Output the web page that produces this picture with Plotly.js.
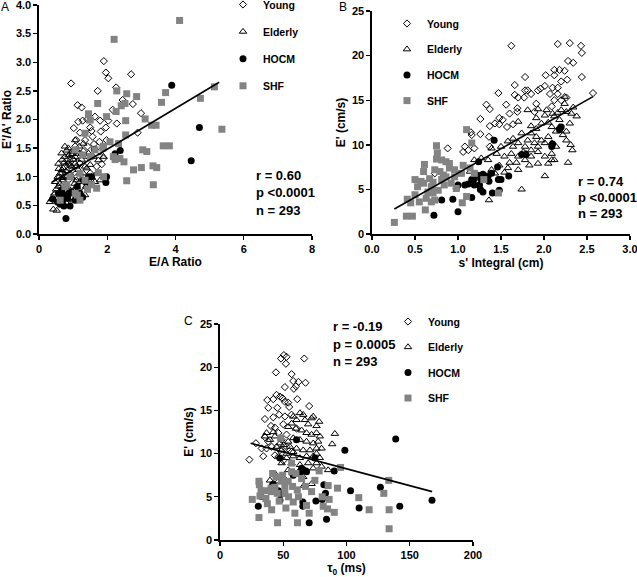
<!DOCTYPE html>
<html><head><meta charset="utf-8">
<script src="https://cdn.plot.ly/plotly-3.0.1.min.js"></script>
<style>html,body{margin:0;padding:0;background:#fff}#chart{width:637px;height:577px}</style>
</head><body><div id="chart"></div>
<script>
const groupNames = ['Young', 'Elderly', 'HOCM', 'SHF'];

// ---------- Panel A: E/A ratio vs E'/A' ratio ----------
const aYoungX = [0.94,1.90,1.96,2.03,1.72,2.70,1.13,1.25,2.26,2.45,2.75,2.99,2.89,1.02,1.15,1.28,1.42,1.64,1.79,1.50,1.54,1.35,1.09,1.20,1.06,1.42,1.57,1.81,1.96,2.03,2.16,1.77,1.61,1.79,1.89,1.84,1.69,1.45,1.30,1.12,0.93,0.83,0.76,0.69,0.60,0.86,0.96,1.20,1.12,0.66,0.44,1.25,1.50,2.28,1.98];
const aYoungY = [2.63,3.02,2.82,2.72,2.50,2.79,2.25,2.21,2.56,2.34,2.27,2.11,1.77,1.85,1.96,1.98,2.00,2.05,1.98,1.86,1.80,1.64,1.64,1.77,1.53,1.53,1.70,1.79,1.86,1.98,2.17,1.61,1.57,1.44,1.32,1.22,1.18,1.35,1.44,1.35,1.40,1.28,1.18,1.06,0.99,0.94,1.11,1.23,1.00,0.83,0.68,0.83,1.06,1.93,1.64];
const aElderlyX = [0.57,0.42,0.52,0.37,0.47,0.62,0.71,0.81,0.86,0.96,1.06,0.96,1.06,0.71,0.81,0.66,0.91,1.01,1.10,1.20,1.30,1.40,0.76,0.66,0.91,1.09,1.25,1.45,1.59,1.74,1.89,1.69,1.64,1.79,1.45,0.81,0.96,0.62,0.57,0.47,0.76,0.86,1.18,1.30,1.06,1.35,1.50,1.20,1.10,1.38,0.54,0.32,0.66,1.20,1.35,1.54,0.81,0.91,1.10,1.40,0.76,0.50,0.61,0.70,0.79,0.92,1.00,0.55,0.67,0.74,0.87,0.95,1.04,1.15,0.72,0.88,1.02,0.58,0.68,0.98,1.24];
const aElderlyY = [1.23,0.43,0.41,0.61,0.71,1.06,1.15,1.46,1.50,1.44,1.64,1.18,1.23,0.94,0.83,0.71,0.77,0.59,0.83,0.91,1.06,1.15,1.35,1.41,1.06,1.18,1.30,1.41,1.35,1.29,1.35,1.06,0.91,0.94,0.94,0.54,0.62,0.54,0.83,0.91,1.02,1.23,1.53,1.58,1.35,1.18,1.21,1.06,0.94,0.83,0.62,0.56,0.59,0.65,0.68,1.00,1.00,1.29,1.47,1.35,1.53,0.78,0.88,0.98,1.10,1.20,1.30,1.00,1.12,1.25,1.38,0.98,0.88,1.12,0.66,0.70,0.76,1.14,1.30,1.40,1.40];
const aHocmX = [0.79,0.91,0.40,0.57,0.64,0.69,0.77,0.67,0.84,0.73,0.62,0.88,0.54,0.95,1.28,1.30,1.38,1.45,1.54,1.62,2.23,2.38,1.96,1.98,3.89,4.70,4.46,1.12,1.20,1.06];
const aHocmY = [0.27,0.49,0.61,0.71,0.64,0.57,0.68,0.77,0.62,0.49,0.52,0.71,0.56,0.74,0.64,0.94,0.91,1.00,1.00,1.48,1.40,1.46,0.90,1.00,2.60,1.86,1.28,0.83,0.71,0.59];
const aShfX = [4.12,2.20,2.28,1.72,2.86,2.57,3.71,3.59,2.41,2.52,2.26,1.98,2.54,3.11,3.30,3.43,2.54,4.73,5.14,5.36,3.64,3.82,3.04,3.16,2.33,2.08,1.87,2.18,2.37,2.49,2.23,3.34,3.45,3.00,2.77,2.57,3.35,1.89,1.74,1.69,1.54,1.42,1.35,1.20,1.06,1.12,0.81,0.91,1.50,1.64,1.28,1.35,1.50,1.45,1.89,1.06,0.62,0.76,1.20];
const aShfY = [3.73,3.40,2.50,2.28,2.40,2.45,2.47,2.30,2.24,2.28,2.14,2.05,1.98,2.01,1.90,1.90,1.73,2.37,2.57,1.83,1.54,1.54,1.47,1.44,1.58,1.61,1.50,1.35,1.32,1.26,1.30,1.19,1.16,1.16,1.12,0.93,0.86,1.00,1.07,0.80,0.86,0.78,0.94,1.06,0.71,0.68,0.86,1.00,1.35,1.47,1.38,1.76,1.99,2.10,1.53,1.47,0.59,0.83,0.59];
const aFitX = [0.37, 5.28];
const aFitY = [0.90, 2.65];
const aStats = ['r = 0.60', 'p <0.0001', 'n = 293'];

// ---------- Panel B: s' integral vs E' ----------
const bYoungX = [1.62,2.16,2.30,2.43,2.44,2.28,2.34,2.44,2.12,2.18,2.24,2.27,2.12,2.02,2.20,2.16,2.10,2.01,1.96,1.93,1.78,1.78,1.81,1.66,1.66,1.47,1.70,1.77,1.85,2.07,2.16,2.20,2.26,2.57,1.56,1.69,1.33,1.37,1.60,1.69,1.48,1.52,1.26,1.43,1.37,1.48,1.57,1.64,1.15,1.16,1.26,1.36,1.08,1.06,1.12,0.88,1.19,0.73,1.91,1.89,2.09,2.12,1.37];
const bYoungY = [21.1,21.3,21.4,21.1,20.3,19.4,19.2,17.6,18.4,18.4,18.3,17.3,17.8,17.8,17.1,16.4,16.4,16.6,16.3,16.1,17.6,16.1,16.1,16.7,15.6,15.8,15.3,15.3,15.7,15.7,15.7,15.0,15.3,15.8,14.5,14.1,14.5,14.0,13.5,13.7,13.0,12.8,12.9,12.4,12.1,12.3,12.0,12.3,11.4,11.1,11.2,10.9,9.8,9.2,9.4,9.6,9.6,6.8,14.6,13.7,14.3,15.0,9.8];
const bElderlyX = [1.74,1.36,2.01,2.28,2.33,2.31,2.26,2.22,2.38,2.30,2.24,2.24,2.03,2.01,1.93,1.91,1.81,1.70,1.85,1.91,1.97,2.05,2.12,2.16,2.20,2.09,2.14,2.18,2.05,1.97,1.89,1.81,1.78,1.85,1.93,2.01,2.09,1.93,1.83,1.78,1.70,1.62,1.54,1.50,1.58,1.64,1.39,1.45,1.35,1.48,1.58,1.70,1.68,1.60,1.39,1.14,1.74,1.85,1.91,2.01,2.09,2.14,1.93,1.85,1.76,2.09,2.05,2.12,2.26,2.18,2.10,2.26,2.32,2.34,1.70,1.64,1.79,1.54,1.43,1.27,1.19];
const bElderlyY = [5.0,3.8,6.5,8.0,9.4,10.0,10.5,11.1,13.2,12.4,14.6,15.4,13.9,13.3,14.0,13.0,13.9,12.6,12.1,11.8,12.4,12.5,13.2,13.6,13.9,12.0,11.5,12.0,10.9,10.5,10.2,10.5,9.8,9.4,9.2,8.7,8.3,7.9,7.7,8.3,8.7,9.0,8.7,9.8,10.4,9.8,9.6,9.0,8.3,7.7,7.4,7.2,8.0,8.0,7.2,7.0,11.3,11.3,10.9,10.2,10.2,9.8,9.8,8.7,9.2,9.0,7.9,8.3,11.5,12.8,13.5,13.7,13.5,14.2,10.2,10.7,9.0,6.9,6.8,8.5,8.3];
const bHocmX = [0.72,1.00,0.94,0.81,1.16,0.98,1.00,1.08,1.12,1.19,1.25,1.27,1.19,1.23,1.29,1.35,1.39,1.47,1.50,1.59,1.29,1.26,1.40,1.48,1.46,1.24,1.42,1.74,1.79,2.09,2.10,2.18,2.20,1.36,1.16];
const bHocmY = [2.1,2.5,3.9,3.8,4.1,5.1,5.5,5.5,5.6,5.5,5.5,6.1,6.2,6.6,6.7,6.5,6.8,6.1,6.1,6.5,4.7,5.0,4.6,4.9,7.5,8.1,10.5,8.9,8.9,9.8,10.1,11.7,12.0,5.9,6.1];
const bShfX = [0.26,0.40,0.47,0.41,0.50,0.45,0.55,0.62,0.69,0.73,0.50,0.61,0.60,0.60,0.67,0.71,0.75,0.76,0.75,0.73,0.79,0.81,0.81,0.86,0.90,0.90,0.96,0.83,0.77,0.65,0.84,1.04,1.06,1.10,1.05,1.10,1.16,0.92,0.98,1.30,1.47,0.53,0.57,0.86,0.96,0.69,0.63,0.71,1.19,1.14];
const bShfY = [1.3,2.0,2.0,3.9,4.4,3.5,3.6,2.7,3.6,3.8,6.1,7.8,7.0,5.7,6.2,5.8,9.9,9.1,8.4,7.2,7.0,8.3,6.1,8.1,7.9,7.4,7.2,6.6,4.9,4.7,5.5,6.8,7.7,4.2,3.5,11.7,10.2,5.7,5.1,6.1,4.6,5.3,5.9,6.4,6.4,5.3,4.0,4.6,6.8,7.4];
const bFitX = [0.26, 2.57];
const bFitY = [2.8, 15.4];
const bStats = ['r = 0.74', 'p <0.0001', 'n = 293'];

// ---------- Panel C: tau0 vs E' ----------
const cYoungX = [48.2,50.5,52.6,52.1,66.6,44.2,56.6,57.9,60.0,62.0,67.6,58.4,51.3,44.7,47.4,49.5,37.4,42.1,61.1,51.3,53.9,70.5,38.2,45.3,54.7,35.5,42.1,46.8,51.3,56.6,40.3,43.4,50.0,35.5,38.2,40.8,36.8,28.4,34.2,23.2,46.1,48.7,52.6,47.4,43.4,50.0,56.6,60.5,46.1,52.6,32.9];
const cYoungY = [21.0,21.4,21.2,20.4,21.0,19.4,19.2,18.4,17.8,18.3,18.2,17.5,17.7,16.8,16.6,16.4,16.2,16.3,16.3,16.0,15.9,15.5,15.3,15.3,15.4,14.0,14.2,14.5,14.3,14.5,13.2,13.0,13.4,11.9,11.4,10.8,10.6,11.2,9.7,9.3,12.4,11.6,12.2,10.4,9.8,9.2,10.2,12.9,9.6,10.8,10.6];
const cElderlyX = [72.4,73.7,78.4,76.3,90.8,88.7,36.8,35.5,63.2,65.8,67.1,69.7,60.5,57.9,56.6,53.9,60.0,64.5,68.4,72.4,76.3,78.9,77.6,73.7,68.4,63.2,57.9,53.9,50.5,55.3,60.5,65.8,71.1,76.3,80.3,73.7,68.4,63.2,57.9,52.6,48.7,56.6,63.2,69.7,76.3,80.3,73.7,67.1,60.5,39.5,42.1,46.1,34.2,72.4,66.3,42.1,43.4,39.5,47.4,52.6,57.9,76.3,78.9,48.7,44.7,85.5,53.9,65.8,52.1,43.4];
const cElderlyY = [14.1,14.3,13.7,13.2,12.3,11.1,12.4,12.0,14.7,14.5,13.9,13.4,13.9,14.3,13.5,13.1,12.9,12.7,12.4,12.2,12.4,12.0,11.4,11.2,11.4,11.6,11.8,11.4,11.0,10.8,10.6,10.4,10.4,10.6,10.6,9.7,9.7,9.5,9.7,9.5,8.9,8.9,8.7,8.9,8.9,8.5,8.3,8.1,7.7,6.9,6.6,6.8,4.9,6.5,6.3,12.5,12.0,11.6,11.2,10.0,10.2,10.0,9.5,10.4,10.8,8.1,8.1,7.3,6.9,7.7];
const cHocmX = [30.3,48.2,46.1,47.4,41.6,60.5,64.5,67.9,63.2,57.9,65.5,65.5,70.5,75.8,80.8,82.1,83.4,84.2,90.3,98.7,103.2,110.0,126.8,138.9,142.1,167.6,75.0,68.4,47.4];
const cHocmY = [3.9,5.3,5.7,9.5,6.4,11.6,8.3,8.0,7.9,7.5,4.4,3.9,2.0,4.5,4.7,6.4,5.4,2.4,8.0,10.4,5.7,3.7,6.1,11.7,3.9,4.6,9.5,7.9,4.6];
const cShfX = [25.5,30.8,31.1,30.8,32.4,31.6,36.8,37.4,40.8,40.3,40.8,43.4,45.3,41.6,45.5,46.8,49.5,51.3,52.1,51.3,53.9,57.4,57.9,59.2,61.3,61.1,62.0,64.5,67.6,68.4,70.5,72.4,78.4,75.0,80.8,81.6,85.0,86.3,85.5,90.3,92.9,95.3,109.7,117.9,129.5,133.7,133.4,133.7,47.9,56.6,60.0,44.2,36.3,54.2,48.7,56.6];
const cShfY = [4.7,6.8,6.4,2.6,5.7,5.1,5.7,4.2,3.5,6.0,5.6,6.1,5.4,7.7,2.0,4.5,7.5,6.2,3.7,5.4,6.8,6.2,4.4,3.1,2.0,5.8,5.0,7.1,6.2,4.0,3.1,5.6,8.0,6.9,5.0,3.9,3.6,4.7,6.3,3.2,6.0,8.4,4.9,3.5,5.4,3.5,6.9,1.3,11.8,8.9,7.7,7.3,4.8,5.0,6.8,7.9];
const cFitX = [24.2, 167.7];
const cFitY = [11.2, 5.6];
const cStats = ['r = -0.19', 'p = 0.0005', 'n = 293'];

// ---------- styling ----------
const FONT = 'Liberation Sans, Arial, Helvetica, sans-serif';
const GRAY = '#838383';
const markerStyles = {
  Young:   {symbol: 'diamond-open', size: 5.5, color: '#000', line: {width: 1, color: '#000'}},
  Elderly: {symbol: 'triangle-up-open', size: 6.5, color: '#000', line: {width: 1, color: '#000'}},
  HOCM:    {symbol: 'circle', size: 7, color: '#000', line: {width: 0}},
  SHF:     {symbol: 'square', size: 7, color: GRAY, line: {width: 0}}
};

function panelTraces(xs, ys, fitX, fitY, xa, ya, legendId) {
  const tr = groupNames.map((g, i) => ({
    type: 'scatter', mode: 'markers', name: g,
    x: xs[i], y: ys[i], xaxis: xa, yaxis: ya,
    marker: markerStyles[g], cliponaxis: false,
    legend: legendId, legendgroup: legendId + g, showlegend: true,
    hoverinfo: 'skip'
  }));
  tr.push({type: 'scatter', mode: 'lines', x: fitX, y: fitY, xaxis: xa, yaxis: ya,
    line: {color: '#000', width: 1.6}, showlegend: false, hoverinfo: 'skip'});
  return tr;
}

const data = [].concat(
  panelTraces([aYoungX, aElderlyX, aHocmX, aShfX], [aYoungY, aElderlyY, aHocmY, aShfY], aFitX, aFitY, 'x', 'y', 'legend'),
  panelTraces([bYoungX, bElderlyX, bHocmX, bShfX], [bYoungY, bElderlyY, bHocmY, bShfY], bFitX, bFitY, 'x2', 'y2', 'legend2'),
  panelTraces([cYoungX, cElderlyX, cHocmX, cShfX], [cYoungY, cElderlyY, cHocmY, cShfY], cFitX, cFitY, 'x3', 'y3', 'legend3')
);

const W = 637, H = 577;
const px = v => v / W;
const py = v => 1 - v / H;

function axis(extra) {
  return Object.assign({
    showline: true, linecolor: '#000', linewidth: 1.6, mirror: false,
    ticks: 'outside', ticklen: 4, tickwidth: 1.4, tickcolor: '#000',
    showgrid: false, zeroline: false, fixedrange: true, ticklabeloverflow: 'allow',
    tickfont: {family: FONT, size: 11, color: '#000', weight: 700}
  }, extra);
}
const titleFont = {family: FONT, size: 12, color: '#000', weight: 700};

function legendCfg(x, y, gap) {
  return {x: x, y: y, xanchor: 'left', yanchor: 'top', bgcolor: 'rgba(0,0,0,0)',
    borderwidth: 0, tracegroupgap: gap, itemclick: false, itemdoubleclick: false,
    font: {family: FONT, size: 10.5, color: '#000', weight: 700}};
}

function statAnn(lines, x, ys) {
  return lines.map((t, i) => ({text: t, xref: 'paper', yref: 'paper', x: px(x), y: py(ys[i]),
    xanchor: 'left', yanchor: 'middle', showarrow: false,
    font: {family: FONT, size: 13, color: '#000', weight: 700}}));
}
function letter(t, x, y) {
  return {text: t, xref: 'paper', yref: 'paper', x: px(x), y: py(y), xanchor: 'center', yanchor: 'middle',
    showarrow: false, font: {family: FONT, size: 12, color: '#000'}};
}

const layout = {
  width: W, height: H,
  margin: {l: 0, r: 0, t: 0, b: 0, pad: 0, autoexpand: false},
  paper_bgcolor: '#fff', plot_bgcolor: '#fff',
  xaxis: axis({domain: [px(39), px(312)], range: [0, 8.0001], dtick: 2, anchor: 'y',
    title: {text: 'E/A Ratio', font: titleFont, standoff: 4}}),
  yaxis: axis({domain: [py(234), py(5)], range: [0, 4.0001], dtick: 0.5, tickformat: '.1f', anchor: 'x',
    title: {text: "E'/A' Ratio", font: titleFont, standoff: 4}}),
  xaxis2: axis({domain: [px(372), px(630)], range: [0, 3.0001], dtick: 0.5, tickformat: '.1f', anchor: 'y2',
    title: {text: "s' Integral (cm)", font: titleFont, standoff: 5}}),
  yaxis2: axis({domain: [py(234), py(11)], range: [0, 25.001], dtick: 5, anchor: 'x2',
    title: {text: "E' (cm/s)", font: titleFont, standoff: 4}}),
  xaxis3: axis({domain: [px(220), px(473)], range: [0, 200.01], dtick: 50, anchor: 'y3',
    title: {text: 'τ<sub>0</sub> (ms)', font: titleFont, standoff: 4}}),
  yaxis3: axis({domain: [py(540), py(324)], range: [0, 25.001], dtick: 5, anchor: 'x3',
    title: {text: "E' (cm/s)", font: titleFont, standoff: 4}}),
  legend: legendCfg(px(223), py(-10), 8.1),
  legend2: legendCfg(px(387), py(9), 6.7),
  legend3: legendCfg(px(388), py(307), 6.5),
  annotations: [].concat(
    statAnn(aStats, 254, [175, 192.7, 210]),
    statAnn(bStats, 576, [181.7, 197.7, 213.3]),
    statAnn(cStats, 331, [326.7, 344.3, 361.7]),
    [letter('A', 5, 7), letter('B', 343, 7), letter('C', 188, 321)]
  )
};

Plotly.newPlot('chart', data, layout, {displayModeBar: false, staticPlot: true});
</script>
</body></html>
